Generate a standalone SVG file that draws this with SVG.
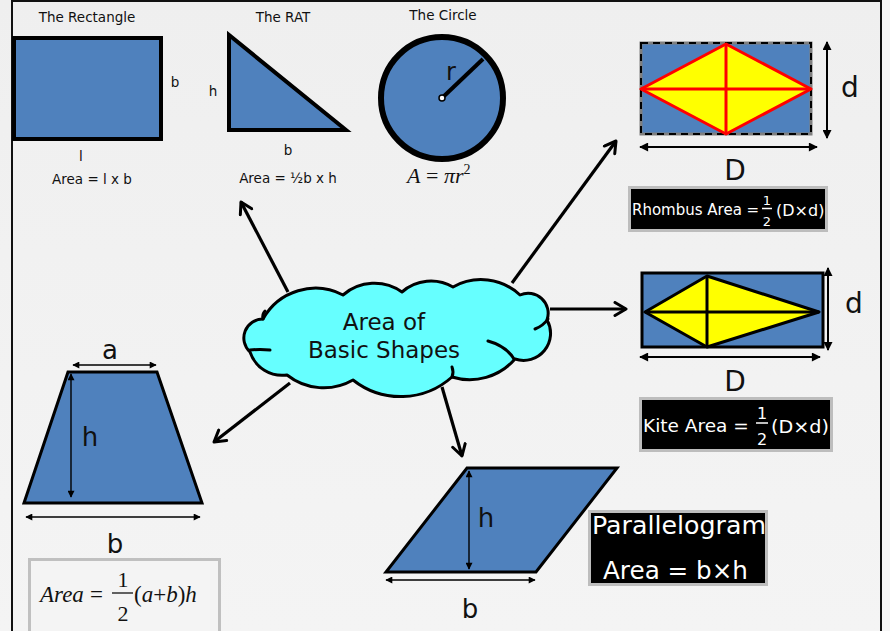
<svg xmlns="http://www.w3.org/2000/svg" width="890" height="631" viewBox="0 0 890 631">
<defs>
<linearGradient id="bg" x1="0" y1="0" x2="0" y2="1">
<stop offset="0" stop-color="#efefef"/><stop offset="1" stop-color="#f4f4f4"/>
</linearGradient>
<marker id="open" viewBox="0 0 16 16" refX="13" refY="8" markerWidth="16" markerHeight="16" markerUnits="userSpaceOnUse" orient="auto">
<path d="M2,1.5 L13,8 L2,14.5" fill="none" stroke="#000" stroke-width="3" stroke-linecap="round" stroke-linejoin="round"/>
</marker>
<marker id="dim" viewBox="0 0 10 10" refX="9" refY="5" markerWidth="9" markerHeight="7" markerUnits="userSpaceOnUse" orient="auto-start-reverse">
<path d="M0,0 L10,5 L0,10 Z" fill="#000"/>
</marker>
<marker id="dim2" viewBox="0 0 10 10" refX="9" refY="5" markerWidth="11" markerHeight="9" markerUnits="userSpaceOnUse" orient="auto-start-reverse">
<path d="M0,0 L10,5 L0,10 Z" fill="#000"/>
</marker>
</defs>
<style>
.lbl{font-family:"DejaVu Sans","Noto Sans",sans-serif;fill:#111;}
.big{font-family:"DejaVu Sans","Noto Sans",sans-serif;fill:#111;}
.wt{font-family:"DejaVu Sans","Noto Sans",sans-serif;fill:#fff;}
.math{font-family:"Liberation Serif","Times New Roman",serif;font-style:italic;fill:#111;}
.mathn{font-family:"Liberation Serif","Times New Roman",serif;fill:#111;}
.shape{fill:#4f81bd;stroke:#000;}
.dimline{stroke:#000;stroke-width:1.4;fill:none;marker-start:url(#dim);marker-end:url(#dim);}
.dimline2{stroke:#000;stroke-width:2;fill:none;marker-start:url(#dim2);marker-end:url(#dim2);}
.conn{stroke:#000;stroke-width:3.2;fill:none;marker-end:url(#open);}
.blk{fill:#000;stroke:#bdbdbd;stroke-width:3;}
</style>
<rect x="0" y="0" width="890" height="631" fill="url(#bg)"/>
<rect x="882" y="0" width="8" height="631" fill="#f6f6f6"/>
<g id="frame" stroke="#111" stroke-width="2" fill="none">
<line x1="12" y1="0" x2="12" y2="631"/>
<line x1="11" y1="1" x2="882" y2="1"/>
<line x1="881" y1="0" x2="881" y2="631"/>
</g>

<g id="connectors">
<line class="conn" x1="288" y1="292" x2="241" y2="202"/>
<line class="conn" x1="512" y1="283" x2="616" y2="141"/>
<line class="conn" x1="550" y1="309" x2="626" y2="309"/>
<line class="conn" x1="290" y1="383" x2="214" y2="442"/>
<line class="conn" x1="442" y1="387" x2="462" y2="456"/>
</g>

<g id="rectangle">
<text class="lbl" x="87" y="22" font-size="13.5" text-anchor="middle">The Rectangle</text>
<rect class="shape" x="14" y="38" width="147" height="101" stroke-width="4"/>
<text class="lbl" x="175" y="87" font-size="13.5" text-anchor="middle">b</text>
<text class="lbl" x="81" y="161" font-size="13.5" text-anchor="middle">l</text>
<text class="lbl" x="92" y="184" font-size="13.5" text-anchor="middle">Area = l x b</text>
</g>

<g id="rat">
<text class="lbl" x="283" y="22" font-size="13.5" text-anchor="middle">The RAT</text>
<polygon class="shape" points="229,35 229,130 346,130" stroke-width="4" stroke-linejoin="miter"/>
<text class="lbl" x="213" y="96" font-size="13.5" text-anchor="middle">h</text>
<text class="lbl" x="288" y="155" font-size="13.5" text-anchor="middle">b</text>
<text class="lbl" x="288" y="183" font-size="13.5" text-anchor="middle">Area = ½b x h</text>
</g>

<g id="circle">
<text class="lbl" x="443" y="20" font-size="13.5" text-anchor="middle">The Circle</text>
<circle cx="442" cy="98" r="61" fill="#4f81bd" stroke="#000" stroke-width="6"/>
<line x1="442" y1="98" x2="483" y2="59" stroke="#000" stroke-width="4"/>
<circle cx="442" cy="98" r="3" fill="#fff" stroke="#000" stroke-width="1.5"/>
<text class="big" x="451" y="80" font-size="24" text-anchor="middle">r</text>
<text class="math" x="407" y="183" font-size="22">A<tspan class="mathn" font-style="normal"> = </tspan>πr<tspan font-size="14" dy="-9" font-style="normal">2</tspan></text>
</g>

<g id="rhombus">
<rect x="641" y="43" width="170" height="91" fill="#4f81bd" stroke="#7f7f7f" stroke-width="3"/>
<rect x="641" y="43" width="170" height="91" fill="none" stroke="#000" stroke-width="2" stroke-dasharray="7,5"/>
<polygon points="641,89 726,44 811,89 726,134" fill="#ffff00" stroke="#ff0000" stroke-width="3" stroke-linejoin="round"/>
<line x1="641" y1="89" x2="811" y2="89" stroke="#ff0000" stroke-width="3"/>
<line x1="726" y1="44" x2="726" y2="134" stroke="#ff0000" stroke-width="3"/>
<line class="dimline2" x1="827" y1="42" x2="827" y2="138"/>
<line class="dimline2" x1="640" y1="147" x2="817" y2="147"/>
<text class="big" x="850" y="97" font-size="28" text-anchor="middle">d</text>
<text class="big" x="735" y="180" font-size="28" text-anchor="middle">D</text>
<rect class="blk" x="629.5" y="187.5" width="197" height="43"/>
<text class="wt" x="632" y="215" font-size="15">Rhombus Area =</text>
<text class="wt" x="767" y="205" font-size="13" text-anchor="middle">1</text>
<line x1="762" y1="208.5" x2="772" y2="208.5" stroke="#fff" stroke-width="1.5"/>
<text class="wt" x="767" y="226" font-size="13" text-anchor="middle">2</text>
<text class="wt" x="776" y="216" font-size="16">(D×d)</text>
</g>

<g id="kite">
<rect x="642" y="273" width="181" height="74" fill="#4f81bd" stroke="#000" stroke-width="3"/>
<polygon points="645,312 707,276 819,312 707,347" fill="#ffff00" stroke="#000" stroke-width="3" stroke-linejoin="round"/>
<line x1="645" y1="312" x2="819" y2="312" stroke="#000" stroke-width="3"/>
<line x1="707" y1="276" x2="707" y2="347" stroke="#000" stroke-width="3"/>
<line class="dimline2" x1="828" y1="268" x2="828" y2="350"/>
<line class="dimline2" x1="640" y1="357" x2="820" y2="357"/>
<text class="big" x="854" y="313" font-size="28" text-anchor="middle">d</text>
<text class="big" x="735" y="391" font-size="28" text-anchor="middle">D</text>
<rect class="blk" x="640.5" y="398.5" width="191" height="52"/>
<text class="wt" x="643" y="432" font-size="18.5">Kite Area =</text>
<text class="wt" x="762" y="419" font-size="16" text-anchor="middle">1</text>
<line x1="756" y1="423" x2="768" y2="423" stroke="#fff" stroke-width="1.5"/>
<text class="wt" x="762" y="445" font-size="16" text-anchor="middle">2</text>
<text class="wt" x="771" y="433" font-size="18" textLength="58" lengthAdjust="spacingAndGlyphs">(D×d)</text>
</g>

<g id="cloud">
<path d="M263,319 A60,60 0 0 1 343,295 A48,48 0 0 1 402,292 A44,44 0 0 1 453,287 A57,57 0 0 1 520,295 A20,20 0 0 1 547,320 A27,27 0 0 1 515,359 A60,60 0 0 1 452,377 A77,77 0 0 1 353,380 A59,59 0 0 1 287,375 A34,34 0 0 1 250,352 A19,19 0 0 1 263,319 Z" fill="#66ffff" stroke="#000" stroke-width="3" stroke-linejoin="round"/>
<path d="M250,350 Q260,349 270,350" fill="none" stroke="#000" stroke-width="3" stroke-linecap="round"/>
<path d="M535,329 Q543,326 548,319" fill="none" stroke="#000" stroke-width="3" stroke-linecap="round"/>
<path d="M488,341 Q506,346 514,359" fill="none" stroke="#000" stroke-width="3" stroke-linecap="round"/>
<path d="M263,319 Q262,314 265,311" fill="none" stroke="#000" stroke-width="3" stroke-linecap="round"/>
<path d="M452,377 Q454,372 452,367" fill="none" stroke="#000" stroke-width="3" stroke-linecap="round"/>
<text class="big" x="384" y="330" font-size="23" text-anchor="middle">Area of</text>
<text class="big" x="384" y="358" font-size="23" text-anchor="middle">Basic Shapes</text>
</g>

<g id="trapezoid">
<polygon class="shape" points="68,372 157,372 202,503 24,503" stroke-width="3" stroke-linejoin="miter"/>
<line class="dimline" x1="73" y1="365" x2="156" y2="365"/>
<line class="dimline" x1="71" y1="374" x2="71" y2="497"/>
<line class="dimline" x1="26" y1="517" x2="200" y2="517"/>
<text class="big" x="110" y="359" font-size="26" text-anchor="middle">a</text>
<text class="big" x="90" y="446" font-size="26" text-anchor="middle">h</text>
<text class="big" x="115" y="553" font-size="26" text-anchor="middle">b</text>
<rect x="29.5" y="559.5" width="190" height="80" fill="#f4f4f4" stroke="#c0c0c0" stroke-width="3"/>
<text class="math" x="40" y="602" font-size="23">Area</text>
<text class="mathn" x="90" y="602" font-size="23">=</text>
<text class="mathn" x="123" y="587" font-size="22" text-anchor="middle">1</text>
<line x1="112" y1="593" x2="133" y2="593" stroke="#111" stroke-width="1.3"/>
<text class="mathn" x="123" y="621" font-size="22" text-anchor="middle">2</text>
<text class="math" x="134" y="602" font-size="23"><tspan font-style="normal">(</tspan>a<tspan font-style="normal">+</tspan>b<tspan font-style="normal">)</tspan>h</text>
</g>

<g id="parallelogram">
<polygon class="shape" points="467,468 617,468 536,572 386,572" stroke-width="3" stroke-linejoin="miter"/>
<line class="dimline" x1="469" y1="471" x2="469" y2="569"/>
<line class="dimline" x1="386" y1="580" x2="535" y2="580"/>
<text class="big" x="486" y="527" font-size="26" text-anchor="middle">h</text>
<text class="big" x="470" y="618" font-size="26" text-anchor="middle">b</text>
<rect class="blk" x="589.5" y="511.5" width="177" height="73"/>
<text class="wt" x="592" y="534" font-size="24" textLength="174" lengthAdjust="spacingAndGlyphs">Parallelogram</text>
<text class="wt" x="603" y="579" font-size="24" textLength="145" lengthAdjust="spacingAndGlyphs">Area = b×h</text>
</g>
</svg>
